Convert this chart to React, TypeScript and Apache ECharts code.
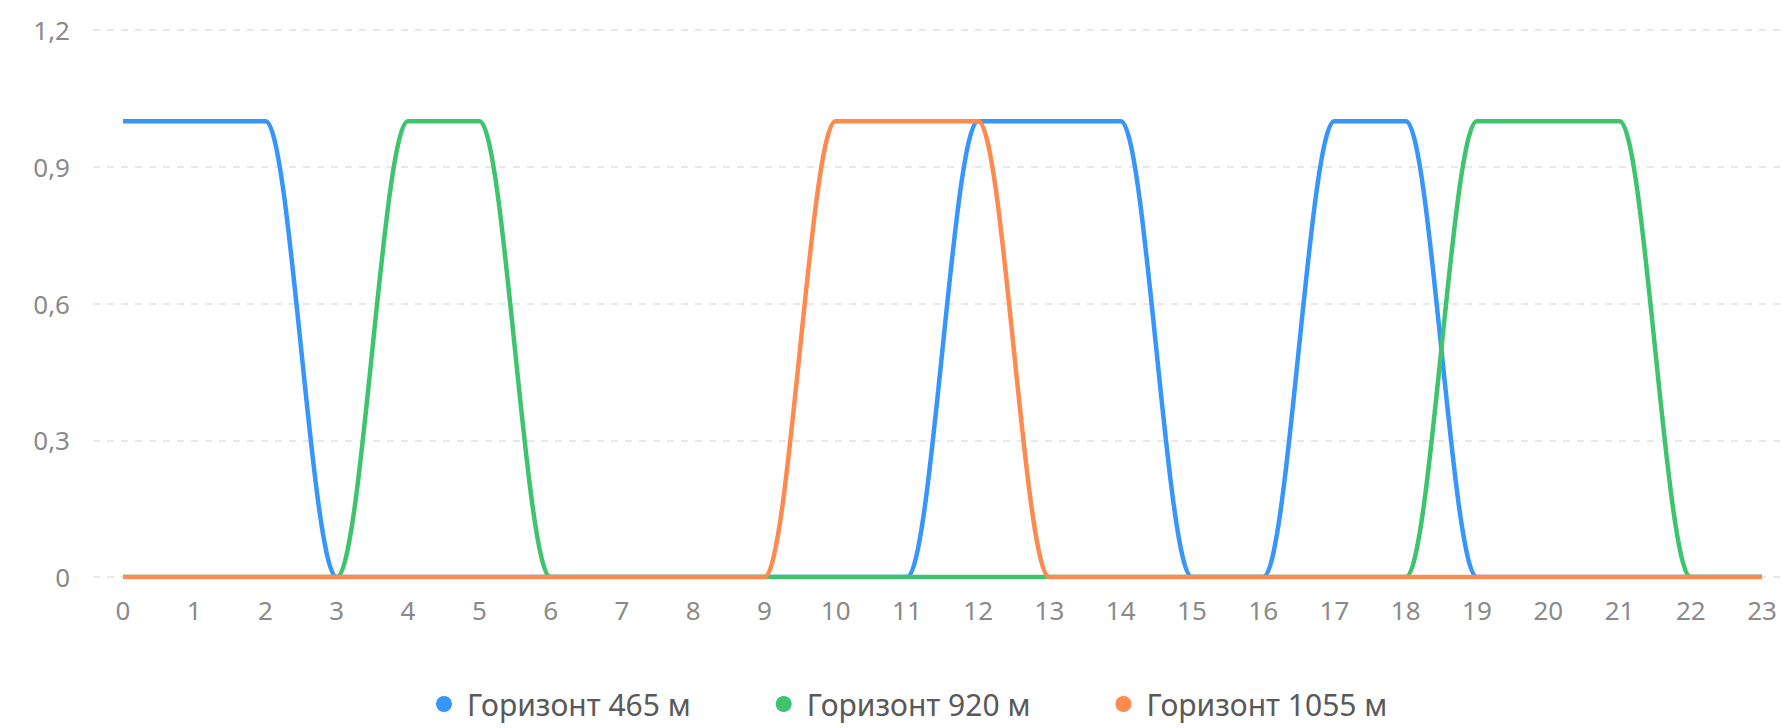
import React, { useEffect, useRef } from 'react';
import * as echarts from 'echarts';

const hours = [0, 1, 2, 3, 4, 5, 6, 7, 8, 9, 10, 11, 12, 13, 14, 15, 16, 17, 18, 19, 20, 21, 22, 23];
const seriesNames = ['Горизонт 465 м', 'Горизонт 920 м', 'Горизонт 1055 м'];
const h465 = [1, 1, 1, 0, 0, 0, 0, 0, 0, 0, 0, 0, 1, 1, 1, 0, 0, 1, 1, 0, 0, 0, 0, 0];
const h920 = [0, 0, 0, 0, 1, 1, 0, 0, 0, 0, 0, 0, 0, 0, 0, 0, 0, 0, 0, 1, 1, 1, 0, 0];
const h1055 = [0, 0, 0, 0, 0, 0, 0, 0, 0, 0, 1, 1, 1, 0, 0, 0, 0, 0, 0, 0, 0, 0, 0, 0];
const seriesValues = [h465, h920, h1055];
const colors = ['#3796fc', '#3ec46d', '#ff8a4f'];
const yMin = 0;
const yMax = 1.2;
const yStep = 0.3;

const FONT = '"Noto Sans", "Open Sans", sans-serif';

export default function App() {
  const ref = useRef<HTMLDivElement>(null);
  useEffect(() => {
    if (!ref.current) return;
    const chart = echarts.init(ref.current, null, { renderer: 'svg' });
    chart.setOption({
      animation: false,
      backgroundColor: '#ffffff',
      textStyle: { fontFamily: FONT },
      grid: { left: 93, right: 0, top: 30, bottom: 151, outerBoundsMode: 'none' },
      legend: {
        data: seriesNames,
        icon: 'circle',
        left: 431,
        top: 684,
        itemWidth: 36,
        itemHeight: 16,
        itemGap: 85,
        textStyle: { fontSize: 30, color: '#595959', fontFamily: FONT },
      },
      xAxis: {
        type: 'value',
        min: -0.421,
        max: 23.28,
        splitLine: { show: false },
        axisLine: { show: false },
        axisTick: { show: false },
        axisLabel: {
          customValues: hours,
          fontSize: 26,
          color: '#8a8a8a',
          margin: 20,
          fontFamily: FONT,
        },
      },
      yAxis: {
        type: 'value',
        min: yMin,
        max: yMax,
        interval: yStep,
        axisLine: { show: false },
        axisTick: { show: false },
        axisLabel: {
          fontSize: 26,
          color: '#8a8a8a',
          margin: 23,
          fontFamily: FONT,
          formatter: (v: number) => String(Number(v.toFixed(1))).replace('.', ','),
        },
        splitLine: { show: true, lineStyle: { color: '#e8e8e8', width: 2, type: [7, 7] } },
      },
      series: seriesNames.map((name, si) => ({
        name,
        type: 'line',
        smooth: 0.2,
        showSymbol: false,
        symbol: 'circle',
        color: colors[si],
        lineStyle: { width: 4.5, color: colors[si] },
        data: hours.map((h, i) => [h, seriesValues[si][i]]),
      })),
    });
    return () => chart.dispose();
  }, []);
  return (
    <div
      ref={ref}
      style={{ position: 'fixed', left: 0, top: 0, width: 1782, height: 728, background: '#fff' }}
    />
  );
}
